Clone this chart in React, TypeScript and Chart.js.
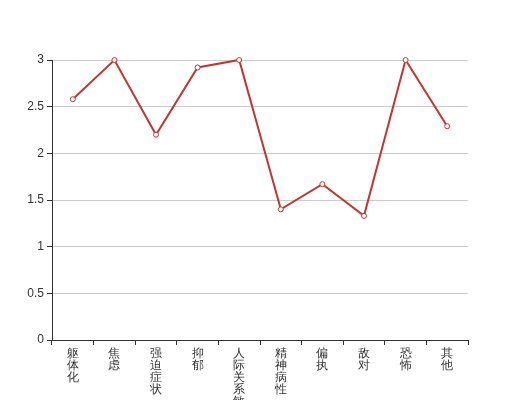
import React, { useEffect, useRef } from "react";
import { Chart, registerables } from "chart.js";

Chart.register(...registerables);

const categories: string[] = ["躯体化", "焦虑", "强迫症状", "抑郁", "人际关系敏感", "精神病性", "偏执", "敌对", "恐怖", "其他"];
const values: number[] = [2.58, 3, 2.2, 2.92, 3, 1.4, 1.67, 1.33, 3, 2.29];
const yMin = 0;
const yMax = 3;
const yStep = 0.5;

export default function App() {
  const ref = useRef<HTMLCanvasElement | null>(null);
  useEffect(() => {
    if (!ref.current) return;
    const labels = categories.map((c) => c.split(""));
    const chart = new Chart(ref.current, {
      type: "line",
      data: {
        labels,
        datasets: [
          {
            data: values,
            borderColor: "#c23531",
            backgroundColor: "#fff",
            borderWidth: 2,
            pointRadius: 2.5,
            pointBorderWidth: 1,
            pointBackgroundColor: "#fff",
            pointBorderColor: "#c23531",
            tension: 0,
            clip: false as any,
          },
        ],
      },
      options: {
        animation: false,
        responsive: false,
        maintainAspectRatio: false,
        layout: { padding: { left: 0, top: 60, right: 52, bottom: 0 } },
        plugins: { legend: { display: false }, tooltip: { enabled: false } },
        scales: {
          x: {
            offset: true,
            grid: { display: true, drawOnChartArea: false, drawTicks: true, tickLength: 5, color: "#333", offset: true },
            border: { display: true, color: "#333", width: 1 },
            ticks: {
              autoSkip: false,
              maxRotation: 0,
              minRotation: 0,
              padding: 3,
              color: "#333",
              font: { size: 12, family: "sans-serif", lineHeight: "12px" },
            },
            afterFit: (s: any) => {
              s.height = 60;
            },
          },
          y: {
            min: yMin,
            max: yMax,
            ticks: {
              stepSize: yStep,
              padding: 3,
              color: "#333",
              font: { size: 12, family: "sans-serif" },
              callback: (v: any) => String(Number(v)),
            },
            grid: { color: "#ccc", tickColor: "#333", tickLength: 5, drawTicks: true },
            border: { display: true, color: "#333", width: 1 },
            afterFit: (s: any) => {
              s.width = 52;
            },
          },
        },
      },
    });
    return () => chart.destroy();
  }, []);
  return (
    <div style={{ position: "fixed", left: 0, top: 0, width: 520, height: 400, background: "#fff" }}>
      <canvas ref={ref} width={520} height={400} style={{ width: 520, height: 400 }} />
    </div>
  );
}
